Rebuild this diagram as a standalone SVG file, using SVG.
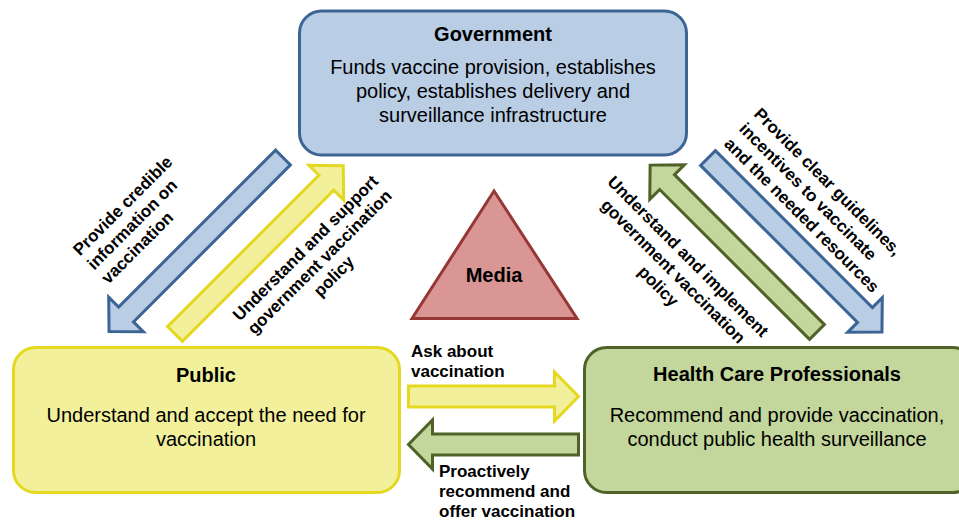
<svg xmlns="http://www.w3.org/2000/svg" width="959" height="522" viewBox="0 0 959 522">
<style>
.box{stroke-width:3}
.gov{fill:#b9cde5;stroke:#3c6494}
.pub{fill:#f2f09b;stroke:#e4d820}
.hcp{fill:#c3d69b;stroke:#4f6228}
.media{fill:#d99694;stroke:#953735;stroke-width:3;stroke-linejoin:miter}
.arr{stroke-width:3;stroke-linejoin:miter}
.title{font-family:"Liberation Sans",Arial,sans-serif;font-weight:bold;font-size:20px;text-anchor:middle;fill:#000}
.body{font-family:"Liberation Sans",Arial,sans-serif;font-size:20px;text-anchor:middle;fill:#000}
.lbl{font-family:"Liberation Sans",Arial,sans-serif;font-weight:bold;font-size:17px;fill:#000}
.mid{text-anchor:middle}
</style>
<rect x="0" y="0" width="959" height="522" fill="#ffffff"/>

<g id="connectors">
  <polygon class="arr gov" transform="translate(283,157.5) rotate(135)" points="0,-10.5 222,-10.5 222,-24.5 246,0 222,24.5 222,10.5 0,10.5"/>
  <polygon class="arr pub" transform="translate(175,334) rotate(-45)" points="0,-10.5 214,-10.5 214,-24.5 238,0 214,24.5 214,10.5 0,10.5"/>
  <polygon class="arr hcp" transform="translate(817,332) rotate(-135)" points="0,-10.5 212,-10.5 212,-24.5 236,0 212,24.5 212,10.5 0,10.5"/>
  <polygon class="arr gov" transform="translate(708,158) rotate(45)" points="0,-10.5 222,-10.5 222,-24.5 246,0 222,24.5 222,10.5 0,10.5"/>
  <polygon class="arr pub" transform="translate(408.5,396.5)" points="0,-10.5 146,-10.5 146,-24.5 170,0 146,24.5 146,10.5 0,10.5"/>
  <polygon class="arr hcp" transform="translate(578.5,444.5) rotate(180)" points="0,-10.5 146,-10.5 146,-24.5 170,0 146,24.5 146,10.5 0,10.5"/>

  <g class="lbl" transform="translate(80,256.5) rotate(-45)">
    <text x="0" y="0">Provide credible</text>
    <text x="0" y="20">information on</text>
    <text x="0" y="40">vaccination</text>
  </g>
  <g class="lbl mid" transform="translate(309.5,252) rotate(-45)">
    <text x="0" y="0">Understand and support</text>
    <text x="0" y="20">government vaccination</text>
    <text x="0" y="40">policy</text>
  </g>
  <g class="lbl mid" transform="translate(684,260.5) rotate(45)">
    <text x="0" y="0">Understand and implement</text>
    <text x="0" y="21">government vaccination</text>
    <text x="0" y="42">policy</text>
  </g>
  <g class="lbl" transform="translate(753,115) rotate(45)">
    <text x="0" y="0">Provide clear guidelines,</text>
    <text x="0" y="21">incentives to vaccinate</text>
    <text x="0" y="42">and the needed resources</text>
  </g>
  <g class="lbl">
    <text x="411" y="357">Ask about</text>
    <text x="411" y="377">vaccination</text>
    <text x="439" y="477">Proactively</text>
    <text x="439" y="497">recommend and</text>
    <text x="439" y="517">offer vaccination</text>
  </g>
</g>

<g id="government">
  <rect class="box gov" x="299.5" y="11" width="387" height="144" rx="22"/>
  <text class="title" x="493" y="41">Government</text>
  <text class="body" x="493" y="74">Funds vaccine provision, establishes</text>
  <text class="body" x="493" y="98">policy, establishes delivery and</text>
  <text class="body" x="493" y="122">surveillance infrastructure</text>
</g>

<g id="public">
  <rect class="box pub" x="13.5" y="347.5" width="386" height="145" rx="22"/>
  <text class="title" x="206" y="382">Public</text>
  <text class="body" x="206" y="422">Understand and accept the need for</text>
  <text class="body" x="206" y="446">vaccination</text>
</g>

<g id="hcp">
  <rect class="box hcp" x="584.5" y="347.5" width="390" height="145" rx="22"/>
  <text class="title" x="777" y="381">Health Care Professionals</text>
  <text class="body" x="777" y="422">Recommend and provide vaccination,</text>
  <text class="body" x="777" y="446">conduct public health surveillance</text>
</g>

<g id="media">
  <polygon class="media" points="494,191 412,318.5 577,318.5"/>
  <text class="title" x="494" y="282">Media</text>
</g>
</svg>
